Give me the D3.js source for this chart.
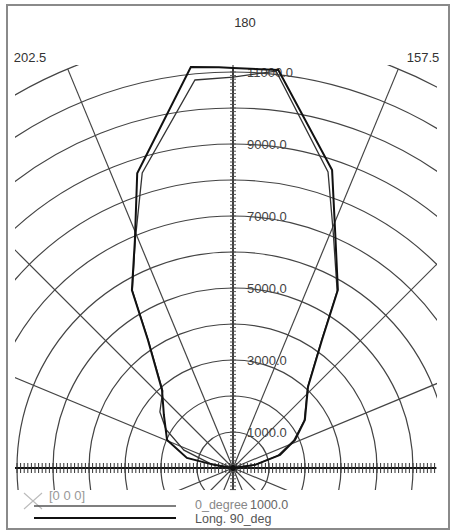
<!DOCTYPE html>
<html>
<head>
<meta charset="utf-8">
<script src="https://cdn.jsdelivr.net/npm/d3@7"></script>
<style>
  body { margin: 0; background: #fff; }
  text { font-family: "Liberation Sans", Arial, sans-serif; }
</style>
</head>
<body>
<div id="chart"></div>
<script>
// Polar candela plot data (angle in degrees, 180 = straight up)
var longAngles = [90, 98, 105.5, 114.3, 123.7, 137.2, 145.2, 149.5, 156.5, 161.6, 173.5, 180, 182, 186, 198, 203.3, 209.6, 213.6, 222.3, 232.5, 247, 257.7, 261, 270];
var longValues = [0, 620, 1355, 1890, 2400, 3065, 4330, 5740, 7120, 8720, 11125, 11110, 11140, 11200, 8610, 6890, 5685, 4270, 2930, 2420, 1990, 1310, 510, 0];

var zeroAngles = [90, 98, 105.5, 114.3, 123.7, 137.2, 145.2, 149.5, 156.9, 162.2, 173.8, 180, 185.6, 197.1, 203.3, 209.6, 213.6, 222.3, 232.5, 240, 250, 259, 270];
var zeroValues = [0, 600, 1300, 1850, 2380, 3050, 4300, 5700, 7100, 8635, 11090, 10860, 10830, 8575, 6870, 5660, 4250, 2900, 2560, 2150, 1450, 640, 0];

var ringValues = [1000, 2000, 3000, 4000, 5000, 6000, 7000, 8000, 9000, 10000, 11000, 12000];
var ringLabels = [1000, 3000, 5000, 7000, 9000, 11000];
var spokeAngles = d3.range(0, 360, 22.5);
var angleLabels = [180, 202.5, 157.5];

var seriesNames = ["0_degree", "Long. 90_deg"];

// Define svg size
var svgWidth = 454;
var svgHeight = 532;

var cx = 233, cy = 468;

var svg = d3.select("#chart")
    .append("svg")
    .attr("width", svgWidth)
    .attr("height", svgHeight);

// Frame
svg.append("rect")
    .attr("x", 7)
    .attr("y", 5)
    .attr("width", 442)
    .attr("height", 524)
    .attr("fill", "none")
    .attr("stroke", "#8a8a8a")
    .attr("stroke-width", 2);

// Scales
var rScale = d3.scaleLinear().domain([0, 12000]).range([0, 432]);
var aScale = d3.scaleLinear().domain([180, 90]).range([0, Math.PI / 2]);

svg.append("clipPath")
    .attr("id", "plotClip")
    .append("rect")
    .attr("x", 15 - cx)
    .attr("y", 65 - cy)
    .attr("width", 422)
    .attr("height", 425);

var chartGroup = svg.append("g")
    .attr("transform", `translate(${cx}, ${cy})`);

var grid = chartGroup.append("g")
    .attr("clip-path", "url(#plotClip)");

// Rings
grid.selectAll(".ring")
    .data(ringValues)
    .enter()
    .append("circle")
    .attr("r", d => rScale(d))
    .attr("fill", "none")
    .attr("stroke", "#444")
    .attr("stroke-width", 1.2);

// Spokes
grid.selectAll(".spoke")
    .data(spokeAngles)
    .enter()
    .append("line")
    .attr("x1", 0)
    .attr("y1", 0)
    .attr("x2", d => rScale(12000) * Math.sin(aScale(d)))
    .attr("y2", d => -rScale(12000) * Math.cos(aScale(d)))
    .attr("stroke", "#444")
    .attr("stroke-width", 1.2);

// Horizontal ruler axis
var hTicks = d3.range(-6000, 5601, 100);
chartGroup.append("line")
    .attr("x1", 15 - cx)
    .attr("x2", 436 - cx)
    .attr("y1", 0)
    .attr("y2", 0)
    .attr("stroke", "#111")
    .attr("stroke-width", 2);

chartGroup.selectAll(".htick")
    .data(hTicks)
    .enter()
    .append("line")
    .attr("x1", d => rScale(d))
    .attr("x2", d => rScale(d))
    .attr("y1", -5)
    .attr("y2", 5)
    .attr("stroke", "#333")
    .attr("stroke-width", 1);

// Vertical ruler axis
var vTicks = d3.range(-600, 11001, 100);
chartGroup.append("line")
    .attr("x1", 0)
    .attr("x2", 0)
    .attr("y1", 68 - cy)
    .attr("y2", 490 - cy)
    .attr("stroke", "#222")
    .attr("stroke-width", 1.5);

chartGroup.selectAll(".vtick")
    .data(vTicks)
    .enter()
    .append("line")
    .attr("x1", -3)
    .attr("x2", 3)
    .attr("y1", d => -rScale(d))
    .attr("y2", d => -rScale(d))
    .attr("stroke", "#555")
    .attr("stroke-width", 1);

// Ring labels
chartGroup.selectAll(".ringLabel")
    .data(ringLabels)
    .enter()
    .append("text")
    .attr("x", 14)
    .attr("y", d => -rScale(d) + 4.5)
    .style("font-size", "13px")
    .style("fill", "#444")
    .text(d => d.toFixed(1));

// Curves
var radialLine = d3.lineRadial()
    .angle(d => aScale(d[0]))
    .radius(d => rScale(d[1]));

var zeroData = zeroAngles.map((a, i) => [a, zeroValues[i]]);
var longData = longAngles.map((a, i) => [a, longValues[i]]);

chartGroup.append("path")
    .attr("d", radialLine(zeroData))
    .attr("fill", "none")
    .attr("stroke", "#333")
    .attr("stroke-width", 1.3);

chartGroup.append("path")
    .attr("d", radialLine(longData))
    .attr("fill", "none")
    .attr("stroke", "#111")
    .attr("stroke-width", 2);

chartGroup.append("circle")
    .attr("r", 3)
    .attr("fill", "#111");

// Angle labels
var labelPos = { "180": [245, 27], "202.5": [30, 62], "157.5": [423, 62] };
svg.selectAll(".angleLabel")
    .data(angleLabels)
    .enter()
    .append("text")
    .attr("x", d => labelPos[String(d)][0])
    .attr("y", d => labelPos[String(d)][1])
    .attr("text-anchor", "middle")
    .style("font-size", "13px")
    .style("fill", "#333")
    .text(d => d);

// Legend
var legend = svg.append("g");

legend.append("line")
    .attr("x1", 24).attr("y1", 509).attr("x2", 42).attr("y2", 493)
    .attr("stroke", "#bbb").attr("stroke-width", 1.2);
legend.append("line")
    .attr("x1", 24).attr("y1", 493).attr("x2", 42).attr("y2", 509)
    .attr("stroke", "#bbb").attr("stroke-width", 1.2);

legend.append("text")
    .attr("x", 49)
    .attr("y", 500)
    .style("font-size", "13px")
    .style("fill", "#999")
    .text("[0 0 0]");

var legendStyles = [
    { y: 506, ty: 509, color: "#555", width: 1.4, text: "#888" },
    { y: 518, ty: 523, color: "#111", width: 2.2, text: "#555" }
];

seriesNames.forEach(function(name, i) {
    var s = legendStyles[i];
    legend.append("line")
        .attr("x1", 34).attr("x2", 176)
        .attr("y1", s.y).attr("y2", s.y)
        .attr("stroke", s.color)
        .attr("stroke-width", s.width);
    legend.append("text")
        .attr("x", 195)
        .attr("y", s.ty)
        .style("font-size", "12.5px")
        .style("fill", s.text)
        .text(name);
});

// Scale value printed next to the legend, as in the source plot
legend.append("text")
    .attr("x", 250)
    .attr("y", 509)
    .style("font-size", "12.5px")
    .style("fill", "#666")
    .text((1000).toFixed(1));
</script>
</body>
</html>
